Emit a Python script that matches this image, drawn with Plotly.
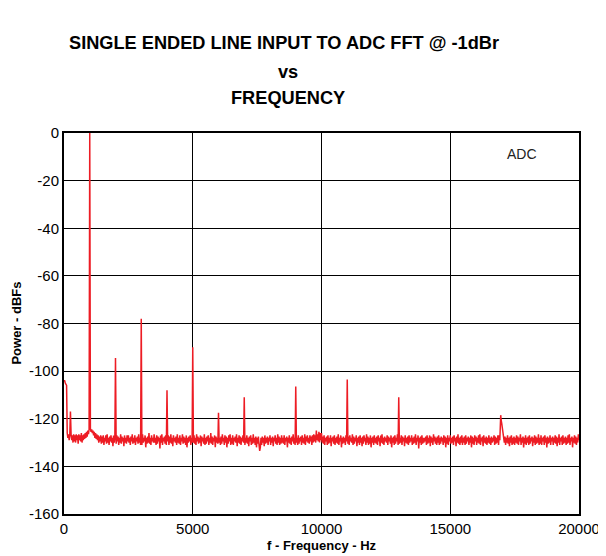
import numpy as np
import plotly.graph_objects as go

# Noise floor, 25 Hz bins from 0 to 20000 Hz (dBFs), one row = 500 Hz
noise_floor = [
    -104, -104, -105, -105.5, -106, -126, -128, -126.5, -129, -127, -129.5, -126.5, -129, -127, -130, -126.5, -129.5, -127, -130, -126.5,
    -129, -127, -130.5, -126.5, -129, -127, -129.5, -126, -130, -127, -129, -126.5, -128.5, -126, -128, -125.5, -127.5, -125, -126.5, -124.5,
    -123, -124, -125.5, -124.5, -126, -125, -127, -125.5, -128, -126, -128.5, -126.5, -129, -127, -130, -127.5, -129.5, -127, -130.5, -127.5,
    -130, -127, -131, -128, -129.5, -127, -130.5, -126.5, -130, -128, -131, -127.5, -129.5, -127, -130, -128, -131.5, -127, -130, -128,
    -128, -130.5, -127, -129.5, -127.5, -131, -128, -130, -126.5, -130.5, -127.5, -129.5, -128, -131.5, -127, -130, -128, -130.5, -127, -129.5,
    -127, -130, -128, -131, -127.5, -129.5, -126.5, -130.5, -128, -130, -127, -131, -128, -129.5, -127.5, -130.5, -126.5, -130, -128, -131,
    -127.5, -131, -126.5, -130, -128, -129.5, -127, -132, -128, -130.5, -127.5, -130, -126, -130.5, -128, -131, -127, -129.5, -128, -130,
    -126.5, -130, -128, -131, -127, -130.5, -127.5, -129.5, -128, -132.5, -127, -130, -126.5, -131, -128, -129.5, -127.5, -130.5, -127, -131,
    -128, -129.5, -127, -131, -127.5, -130, -126.5, -130.5, -128, -131.5, -127, -129.5, -128, -130, -127.5, -131, -126.5, -130, -128, -130.5,
    -127, -131, -128, -129.5, -126.5, -130.5, -127.5, -130, -128, -131, -127, -132, -128, -130, -127.5, -129.5, -127, -131, -128, -130,
    -127.5, -130, -127, -130.5, -128, -131, -126.5, -129.5, -127.5, -130.5, -128, -130, -127, -131.5, -127.5, -129.5, -128, -130.5, -126.5, -131,
    -128, -130.5, -127.5, -129.5, -127, -131, -128, -130, -126, -130.5, -127.5, -131, -128, -129.5, -127, -132, -127.5, -130, -128, -130.5,
    -127, -130, -128, -131, -127.5, -130.5, -126.5, -129.5, -128, -131, -127, -130, -127.5, -132, -128, -130.5, -127, -129.5, -126.5, -131,
    -128, -130.5, -127, -131, -128, -129.5, -127.5, -130, -126.5, -131.5, -128, -130, -127, -130.5, -127.5, -131, -128, -129.5, -127, -130,
    -127.5, -131, -128, -130, -127, -130.5, -128, -131.5, -127.5, -129.5, -127, -131, -128, -130.5, -126.5, -130, -128, -131, -127.5, -132,
    -128, -130.5, -127.5, -131, -133.5, -132, -128, -131, -127.5, -130, -128, -131.5, -127, -130.5, -128, -130, -127.5, -131, -128, -129.5,
    -127, -131, -128, -130, -127.5, -131.5, -128, -129.5, -127, -130.5, -128, -131, -126.5, -130, -127.5, -131, -128, -130.5, -127, -130,
    -128, -130.5, -127, -131, -128, -129.5, -127.5, -132, -128, -130, -127, -130.5, -128, -131, -127.5, -129.5, -126.5, -130.5, -128, -131,
    -127.5, -130, -128, -131, -127, -130.5, -128, -129.5, -127.5, -131, -127, -130, -128, -130.5, -126.5, -131, -127.5, -129.5, -127, -130,
    -128, -130.5, -127, -129.5, -127.5, -131, -127, -130, -126.5, -129.5, -127, -130, -125, -129, -126.5, -129.5, -125.5, -130, -126, -129,
    -126, -130, -127.5, -130.5, -127, -131, -128, -129.5, -127.5, -131, -127, -130.5, -128, -130, -127, -131.5, -128, -129.5, -127.5, -130.5,
    -127, -131, -128, -130, -127.5, -130.5, -126.5, -131, -128, -129.5, -127, -132, -128, -130.5, -127.5, -130, -128, -131, -127, -129.5,
    -128, -130.5, -127.5, -131, -127, -129.5, -128, -130, -126.5, -131, -127.5, -130.5, -128, -129.5, -127, -131.5, -128, -130, -127.5, -131,
    -127, -130, -128, -131.5, -127.5, -130.5, -127, -129.5, -128, -131, -126.5, -130, -127.5, -131, -128, -130.5, -127, -132, -128, -130,
    -127.5, -131, -127, -130, -128, -130.5, -127.5, -131, -127, -129.5, -128, -131.5, -127, -130, -126.5, -130.5, -128, -131, -127.5, -129.5,
    -128, -130, -127, -131, -127.5, -129.5, -128, -130.5, -127, -132, -128, -130, -127.5, -131, -127, -130.5, -128, -129.5, -126.5, -131,
    -127.5, -130.5, -128, -130, -127, -131, -127.5, -129.5, -128, -131.5, -127, -130, -128, -130.5, -127.5, -131, -127, -130, -128, -129.5,
    -127, -131, -128, -130.5, -127.5, -130, -126.5, -131, -128, -129.5, -127, -132.5, -128, -130, -127.5, -131, -127, -130.5, -128, -130,
    -128, -129.5, -127.5, -131, -127, -130.5, -128, -130, -127, -131.5, -127.5, -130, -128, -131, -126.5, -129.5, -127.5, -130.5, -128, -131,
    -127.5, -130, -127, -131, -128, -130.5, -127.5, -129.5, -128, -131, -127, -130, -127.5, -132, -128, -130.5, -127, -131, -128, -129.5,
    -127, -130.5, -128, -130, -127.5, -131, -127, -129.5, -128, -131.5, -127.5, -130, -126.5, -130.5, -128, -131, -127.5, -130, -127, -131,
    -128, -130, -127.5, -131, -127, -130.5, -128, -129.5, -127.5, -131, -128, -130, -127, -132, -127.5, -130.5, -128, -131, -127, -129.5,
    -127.5, -131, -128, -130, -127, -130.5, -126.5, -131, -128, -129.5, -127.5, -131.5, -127, -130, -128, -130.5, -127.5, -131, -128, -130,
    -127, -130.5, -128, -131, -127.5, -130, -128, -129.5, -127, -131, -127.5, -130.5, -128, -130, -127, -131, -127, -129, -124, -120.5,
    -122, -124, -126, -128, -130, -127.5, -131, -128, -130, -127, -130.5, -128, -131.5, -127.5, -130, -127, -131, -128, -130.5, -127.5,
    -131, -128, -130, -127, -130.5, -127.5, -131, -128, -129.5, -126.5, -131, -128, -130, -127.5, -132, -128, -130.5, -127, -131, -128,
    -130, -127.5, -131, -127, -130.5, -128, -129.5, -127.5, -131.5, -128, -130, -127, -131, -127.5, -130.5, -128, -130, -126.5, -131, -128,
    -130.5, -127, -131, -128, -129.5, -127.5, -131, -127, -130, -128, -132, -127.5, -130.5, -128, -130, -127, -131, -128, -129.5, -127.5,
    -131, -128, -130, -127, -130.5, -127.5, -131.5, -128, -130, -126.5, -131, -128, -129.5, -127.5, -131, -127, -130.5, -128, -130, -127.5,
    -131, -128, -130.5, -127, -130, -126.5, -131, -128, -129.5, -127.5, -132, -128, -130, -127, -130.5, -127.5, -131, -128, -130, -126.5,
    -129,
]
bin_hz = 25

# Spectral peaks (tones / harmonics / spurs)
peak_freqs = [250, 990, 1000, 2000, 3000, 4000, 5000, 6000, 7000, 9000, 11000, 13000, 16960]
peak_levels = [-117, -20, 0, -94.5, -78, -108, -90, -117.5, -111, -106.5, -103.5, -111, -118.5]

spec = {i * bin_hz: v for i, v in enumerate(noise_floor)}
for f, v in zip(peak_freqs, peak_levels):
    spec[f] = v
freqs = sorted(spec)
levels = [spec[f] for f in freqs]

x_ticks = [0, 5000, 10000, 15000, 20000]
y_ticks = [0, -20, -40, -60, -80, -100, -120, -140, -160]

# target pixel geometry (page offset compensated)
OFF = 8
W, H = 606, 556
PL, PR, PT, PB = 63.5 - OFF, 579.5 - OFF, 133 - OFF, 514 - OFF
PW, PH = PR - PL, PB - PT


def px(xp):
    return (xp - OFF - PL) / PW


def py(yp):
    return (PB - (yp - OFF)) / PH


fig = go.Figure()
fig.add_trace(go.Scatter(x=freqs, y=levels, mode="lines",
                         line=dict(color="#ED1C24", width=1.5), showlegend=False))

font = "Liberation Sans, Arial, sans-serif"
fig.update_layout(
    width=W, height=H,
    margin=dict(l=PL, r=W - PR, t=PT, b=H - PB, autoexpand=False),
    paper_bgcolor="white", plot_bgcolor="white",
    font=dict(family=font, size=15, color="black"),
)
fig.update_xaxes(range=[0, 20000], tickvals=x_ticks, ticktext=[str(t) for t in x_ticks],
                 showgrid=True, gridcolor="black", gridwidth=1,
                 showline=True, linecolor="black", linewidth=2, mirror=True,
                 zeroline=False, ticks="", tickfont=dict(size=15))
fig.update_yaxes(range=[-160, 0], tickvals=y_ticks, ticktext=[str(t) for t in y_ticks],
                 showgrid=True, gridcolor="black", gridwidth=1,
                 showline=True, linecolor="black", linewidth=2, mirror=True,
                 zeroline=False, ticks="", tickfont=dict(size=15))

title_lines = ["SINGLE ENDED LINE INPUT TO ADC FFT @ -1dBr", "vs", "FREQUENCY"]
title_y = [43, 72, 98]
title_x = [284, 288, 288]
for t, xx, yy in zip(title_lines, title_x, title_y):
    fig.add_annotation(text=f"<b>{t}</b>", xref="paper", yref="paper",
                       x=px(xx), y=py(yy), showarrow=False,
                       font=dict(size=18.2, family=font),
                       xanchor="center", yanchor="middle")

fig.add_annotation(text="<b>f - Frequency - Hz</b>", xref="paper", yref="paper",
                   x=px(321.5), y=py(545), showarrow=False,
                   font=dict(size=13, family=font), xanchor="center", yanchor="middle")
fig.add_annotation(text="<b>Power - dBFs</b>", xref="paper", yref="paper",
                   x=px(15), y=py(323), showarrow=False, textangle=-90,
                   font=dict(size=13, family=font), xanchor="center", yanchor="middle")
fig.add_annotation(text="ADC", xref="paper", yref="paper", x=px(522), y=py(154),
                   showarrow=False, font=dict(size=14, family=font, color="#222"),
                   xanchor="center", yanchor="middle")

fig.write_html("out.html")
